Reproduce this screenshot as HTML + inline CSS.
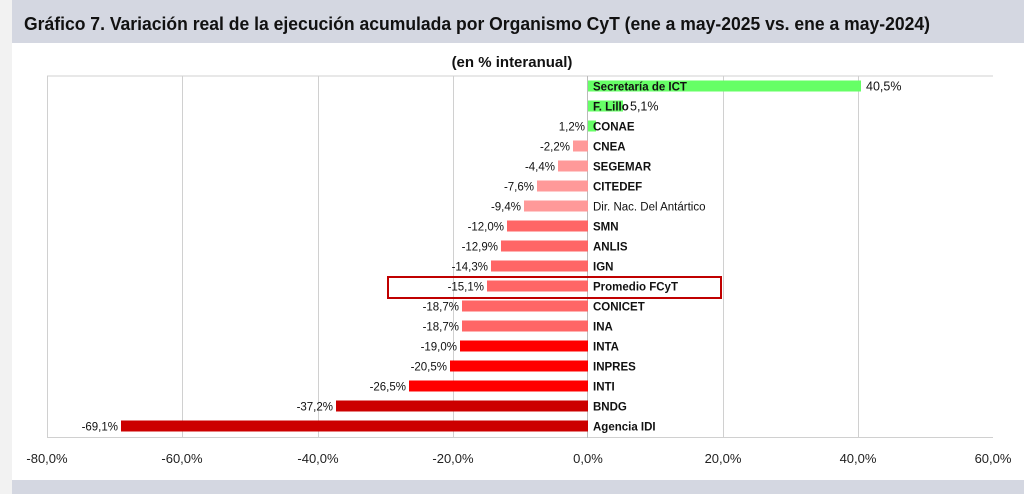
<!DOCTYPE html>
<html><head><meta charset="utf-8"><style>
body{margin:0;background:#fff;}
svg{display:block;}
</style></head><body>
<svg width="1024" height="494" xmlns="http://www.w3.org/2000/svg" font-family="Liberation Sans, Arial, sans-serif">
<rect x="0" y="0" width="1024" height="494" fill="#fff"/>
<rect x="12" y="0" width="1012" height="43" fill="#d4d7e1"/>
<rect x="12" y="480" width="1012" height="14" fill="#d4d7e1"/>
<rect x="0" y="0" width="12" height="494" fill="#f2f2f2"/>
<text x="24" y="30" font-size="18" font-weight="bold" fill="#111" font-family="Liberation Sans, sans-serif" textLength="906" lengthAdjust="spacingAndGlyphs">Gráfico 7. Variación real de la ejecución acumulada por Organismo CyT (ene a may-2025 vs. ene a may-2024)</text>
<text x="512" y="67" font-size="15" font-weight="bold" fill="#111" text-anchor="middle">(en % interanual)</text>
<g stroke="#d0d0d0" stroke-width="1">
<line x1="47" y1="76" x2="993" y2="76"/>
<line x1="47.5" y1="76" x2="47.5" y2="438"/>
<line x1="182.5" y1="76" x2="182.5" y2="438"/>
<line x1="318.5" y1="76" x2="318.5" y2="438"/>
<line x1="453.5" y1="76" x2="453.5" y2="438"/>
<line x1="723.5" y1="76" x2="723.5" y2="438"/>
<line x1="858.5" y1="76" x2="858.5" y2="438"/>
<line x1="47" y1="437.5" x2="993" y2="437.5"/>
</g>
<line x1="587.5" y1="76" x2="587.5" y2="438" stroke="#bbb"/>
<rect x="388" y="277" width="333" height="21" fill="none" stroke="#c00000" stroke-width="2"/>
<g font-size="13" fill="#222" text-anchor="middle">
<text x="47" y="463">-80,0%</text><text x="182" y="463">-60,0%</text><text x="318" y="463">-40,0%</text><text x="453" y="463">-20,0%</text><text x="588" y="463">0,0%</text><text x="723" y="463">20,0%</text><text x="858" y="463">40,0%</text><text x="993" y="463">60,0%</text>
</g>
<g font-size="11.5" font-weight="bold" fill="#111">
<rect x="588" y="80.5" width="273" height="11" fill="#66ff66"/><text x="593" y="90.5">Secretaría de ICT</text><text x="866" y="90.5" font-weight="normal" font-size="12.5">40,5%</text>
<rect x="588" y="100.5" width="35" height="11" fill="#66ff66"/><text x="593" y="110.5">F. Lillo</text><text x="630" y="110.5" font-weight="normal" font-size="12.5">5,1%</text>
<rect x="588" y="120.5" width="8" height="11" fill="#66ff66"/><text x="593" y="130.5">CONAE</text><text x="585" y="130.5" font-weight="normal" text-anchor="end">1,2%</text>
<rect x="573" y="140.5" width="15" height="11" fill="#ff9999"/><text x="593" y="150.5">CNEA</text><text x="570" y="150.5" font-weight="normal" text-anchor="end">-2,2%</text>
<rect x="558" y="160.5" width="30" height="11" fill="#ff9999"/><text x="593" y="170.5">SEGEMAR</text><text x="555" y="170.5" font-weight="normal" text-anchor="end">-4,4%</text>
<rect x="537" y="180.5" width="51" height="11" fill="#ff9999"/><text x="593" y="190.5">CITEDEF</text><text x="534" y="190.5" font-weight="normal" text-anchor="end">-7,6%</text>
<rect x="524" y="200.5" width="64" height="11" fill="#ff9999"/><text x="593" y="210.5" font-weight="normal">Dir. Nac. Del Antártico</text><text x="521" y="210.5" font-weight="normal" text-anchor="end">-9,4%</text>
<rect x="507" y="220.5" width="81" height="11" fill="#ff6666"/><text x="593" y="230.5">SMN</text><text x="504" y="230.5" font-weight="normal" text-anchor="end">-12,0%</text>
<rect x="501" y="240.5" width="87" height="11" fill="#ff6666"/><text x="593" y="250.5">ANLIS</text><text x="498" y="250.5" font-weight="normal" text-anchor="end">-12,9%</text>
<rect x="491" y="260.5" width="97" height="11" fill="#ff6666"/><text x="593" y="270.5">IGN</text><text x="488" y="270.5" font-weight="normal" text-anchor="end">-14,3%</text>
<rect x="487" y="280.5" width="101" height="11" fill="#ff6666"/><text x="593" y="290.5">Promedio FCyT</text><text x="484" y="290.5" font-weight="normal" text-anchor="end">-15,1%</text>
<rect x="462" y="300.5" width="126" height="11" fill="#ff6666"/><text x="593" y="310.5">CONICET</text><text x="459" y="310.5" font-weight="normal" text-anchor="end">-18,7%</text>
<rect x="462" y="320.5" width="126" height="11" fill="#ff6666"/><text x="593" y="330.5">INA</text><text x="459" y="330.5" font-weight="normal" text-anchor="end">-18,7%</text>
<rect x="460" y="340.5" width="128" height="11" fill="#ff0000"/><text x="593" y="350.5">INTA</text><text x="457" y="350.5" font-weight="normal" text-anchor="end">-19,0%</text>
<rect x="450" y="360.5" width="138" height="11" fill="#ff0000"/><text x="593" y="370.5">INPRES</text><text x="447" y="370.5" font-weight="normal" text-anchor="end">-20,5%</text>
<rect x="409" y="380.5" width="179" height="11" fill="#ff0000"/><text x="593" y="390.5">INTI</text><text x="406" y="390.5" font-weight="normal" text-anchor="end">-26,5%</text>
<rect x="336" y="400.5" width="252" height="11" fill="#cc0000"/><text x="593" y="410.5">BNDG</text><text x="333" y="410.5" font-weight="normal" text-anchor="end">-37,2%</text>
<rect x="121" y="420.5" width="467" height="11" fill="#cc0000"/><text x="593" y="430.5">Agencia IDI</text><text x="118" y="430.5" font-weight="normal" text-anchor="end">-69,1%</text>
</g>
</svg>
</body></html>
